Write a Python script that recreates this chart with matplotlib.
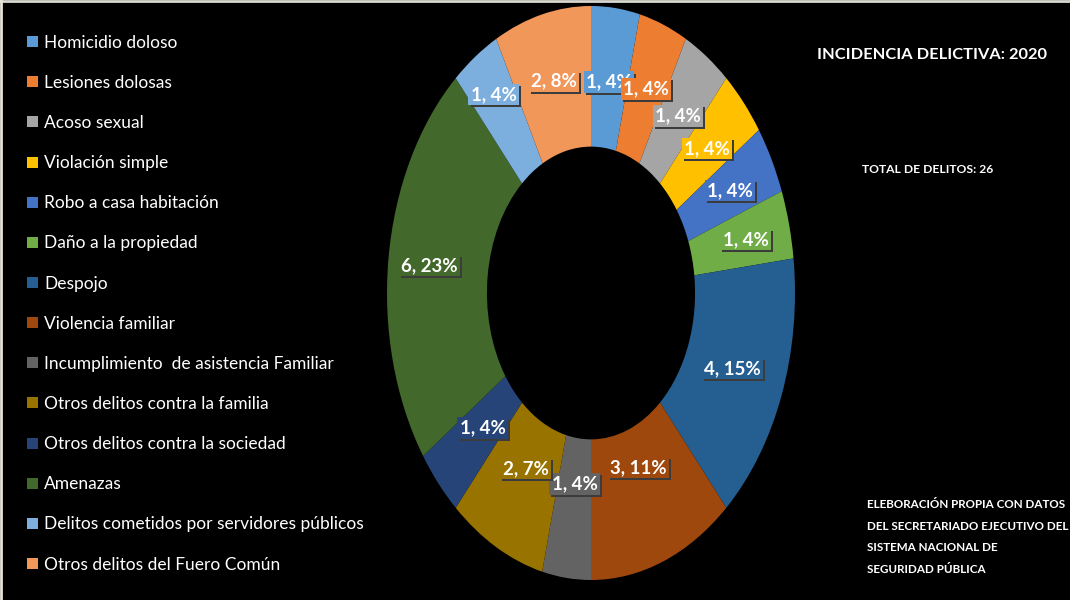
import matplotlib
matplotlib.use("Agg")
import matplotlib.pyplot as plt
import matplotlib.patheffects as pe
import numpy as np

# datos: incidencia delictiva 2020
delitos = [
    "Homicidio doloso",
    "Lesiones dolosas",
    "Acoso sexual",
    "Violación simple",
    "Robo a casa habitación",
    "Daño a la propiedad",
    "Despojo",
    "Violencia familiar",
    "Incumplimiento  de asistencia Familiar",
    "Otros delitos contra la familia",
    "Otros delitos contra la sociedad",
    "Amenazas",
    "Delitos cometidos por servidores públicos",
    "Otros delitos del Fuero Común",
]
casos = [1, 1, 1, 1, 1, 1, 4, 3, 1, 2, 1, 6, 1, 2]
porcentajes = [4, 4, 4, 4, 4, 4, 15, 11, 4, 7, 4, 23, 4, 8]

colores = ["#5B9BD5", "#ED7D31", "#A5A5A5", "#FFC000", "#4472C4", "#70AD47",
           "#255E91", "#9E480E", "#636363", "#997300", "#264478", "#43682B",
           "#7CAFDD", "#F1975A"]

# distancia de cada etiqueta al centro (como quedaron en el grafico original)
dist_etiqueta = [0.74, 0.76, 0.75, 0.76, 0.77, 0.78, 0.74, 0.65, 0.67, 0.69,
                 0.71, 0.80, 0.84, 0.76]

plt.rcParams["font.family"] = ["Lato", "DejaVu Sans"]

fig = plt.figure(figsize=(10.7, 6), dpi=100, facecolor="black")

# el anillo sale estirado en vertical, como en la imagen original
cx, cy, rx, ry = 591, 293, 204, 287
ax = fig.add_axes([(cx - rx) / 1070, (600 - cy - ry) / 600, 2 * rx / 1070, 2 * ry / 600])
ax.set_facecolor("black")

wedges, _ = ax.pie(casos, colors=colores, startangle=90, counterclock=False,
                   radius=1.0, wedgeprops=dict(width=0.49, linewidth=0))
ax.set_aspect("auto")
ax.set_xlim(-1, 1)
ax.set_ylim(-1, 1)
ax.axis("off")

for w, n, p, c, r in zip(wedges, casos, porcentajes, colores, dist_etiqueta):
    ang = np.deg2rad((w.theta1 + w.theta2) / 2)
    x, y = r * np.cos(ang), r * np.sin(ang)
    t = ax.text(x, y, f"{n}, {p}%", ha="center", va="center", fontsize=13.5,
                fontweight="bold", color="white",
                bbox=dict(boxstyle="square,pad=0.12", fc=c, ec="none"))
    t.get_bbox_patch().set_path_effects([
        pe.SimplePatchShadow(offset=(1.5, -1.5), shadow_rgbFace="#3c3c3c", alpha=1),
        pe.Normal()])

leg = fig.legend(wedges, delitos, loc="upper left", bbox_to_anchor=(0.011, 0.968),
                 frameon=False, fontsize=12.5, labelcolor="white",
                 handlelength=0.6, handleheight=0.6, handletextpad=0.35,
                 labelspacing=1.39)

fig.text(0.764, 0.908, "INCIDENCIA DELICTIVA: 2020", color="white", fontsize=11.8,
         fontweight="bold", va="center")
fig.text(0.806, 0.717, "TOTAL DE DELITOS: 26", color="white", fontsize=8.7,
         fontweight="bold", va="center")
fig.text(0.810, 0.105,
         "ELEBORACIÓN PROPIA CON DATOS\nDEL SECRETARIADO EJECUTIVO DEL\nSISTEMA NACIONAL DE\nSEGURIDAD PÚBLICA",
         color="white", fontsize=8.4, fontweight="bold", va="center", linespacing=2.15)

# borde claro arriba y a la izquierda
fig.add_artist(plt.Line2D([0, 1], [0.998, 0.998], color="#d8d8d0", lw=2, transform=fig.transFigure))
fig.add_artist(plt.Line2D([0.001, 0.001], [0, 1], color="#e8e6da", lw=2, transform=fig.transFigure))

fig.savefig("out.png", dpi=100, facecolor="black")
